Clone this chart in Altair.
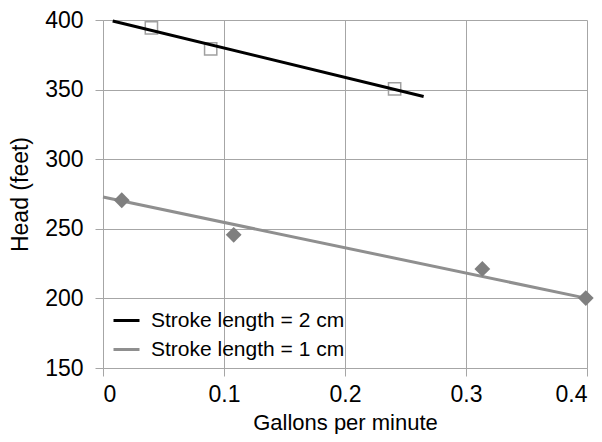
import altair as alt
import pandas as pd

# Measured points
gpm_2cm = [0.040, 0.089, 0.241]
head_2cm = [394.3, 379.3, 350.5]
gpm_1cm = [0.0155, 0.108, 0.3135, 0.399]
head_1cm = [270.5, 245.7, 221.2, 200.2]

# Trendline end points (as drawn)
trend_series = ["Stroke length = 2 cm", "Stroke length = 2 cm",
                "Stroke length = 1 cm", "Stroke length = 1 cm"]
trend_x = [0.008, 0.265, 0.0, 0.4]
trend_y = [399.3, 345.0, 272.8, 200.0]

series_names = ["Stroke length = 2 cm", "Stroke length = 1 cm"]
series_colors = ["#000000", "#8f8f8f"]

x_ticks = [0, 0.1, 0.2, 0.3, 0.4]
y_ticks = [150, 200, 250, 300, 350, 400]

df2 = pd.DataFrame({"x": gpm_2cm, "y": head_2cm})
df1 = pd.DataFrame({"x": gpm_1cm, "y": head_1cm})
dft = pd.DataFrame({"series": trend_series, "x": trend_x, "y": trend_y})

grid = "#a6a6a6"
FONT = "Liberation Sans"

xscale = alt.Scale(domain=[0, 0.4], nice=False, zero=False)
yscale = alt.Scale(domain=[150, 400], nice=False, zero=False)

xaxis = alt.Axis(values=x_ticks, format="~g", title="Gallons per minute",
                 tickSize=8, labelPadding=25, labelBaseline="alphabetic",
                 titleX=242, titleY=61, titleBaseline="alphabetic",
                 titleAnchor="middle", titleFontSize=22)
yaxis = alt.Axis(values=y_ticks, title="Head (feet)", tickSize=8,
                 labelPadding=12, titleX=-83, titleY=174,
                 titleBaseline="middle", titleAlign="center", titleAngle=-90)

squares = alt.Chart(df2).mark_point(
    shape="square", filled=False, stroke="#a0a0a0", strokeWidth=1.5, size=150, opacity=1
).encode(
    x=alt.X("x:Q", scale=xscale, axis=xaxis),
    y=alt.Y("y:Q", scale=yscale, axis=yaxis),
)

lines = alt.Chart(dft).mark_line(strokeWidth=3).encode(
    x=alt.X("x:Q", scale=xscale),
    y=alt.Y("y:Q", scale=yscale),
    color=alt.Color("series:N", scale=alt.Scale(domain=series_names, range=series_colors),
                    sort=series_names,
                    legend=alt.Legend(title=None, orient="none", legendX=9, legendY=286,
                                      symbolType="stroke", symbolSize=676,
                                      symbolStrokeWidth=3, labelFontSize=21,
                                      labelOffset=10, rowPadding=4, padding=0,
                                      labelLimit=0,
                                      labelColor="#000000", labelFont=FONT)),
    detail="series:N",
)

diamonds = alt.Chart(df1).mark_point(
    shape="diamond", filled=True, fill="#7f7f7f", color="#7f7f7f", size=250, opacity=1
).encode(
    x=alt.X("x:Q", scale=xscale),
    y=alt.Y("y:Q", scale=yscale),
)

chart = alt.layer(squares, lines, diamonds).properties(
    width=484, height=348,
    autosize=alt.AutoSizeParams(type="none"),
    padding={"left": 95, "top": 12, "right": 7, "bottom": 66},
).configure_view(stroke=None).configure_axis(
    grid=True, gridColor=grid, gridWidth=1, domainColor=grid, domainWidth=1,
    tickColor=grid, tickWidth=1, labelFont=FONT, titleFont=FONT,
    labelFontSize=23, titleFontSize=23, labelColor="#000000", titleColor="#000000",
    titleFontWeight="normal",
)

chart.save("out.html", embed_options={"renderer": "svg", "actions": False})
